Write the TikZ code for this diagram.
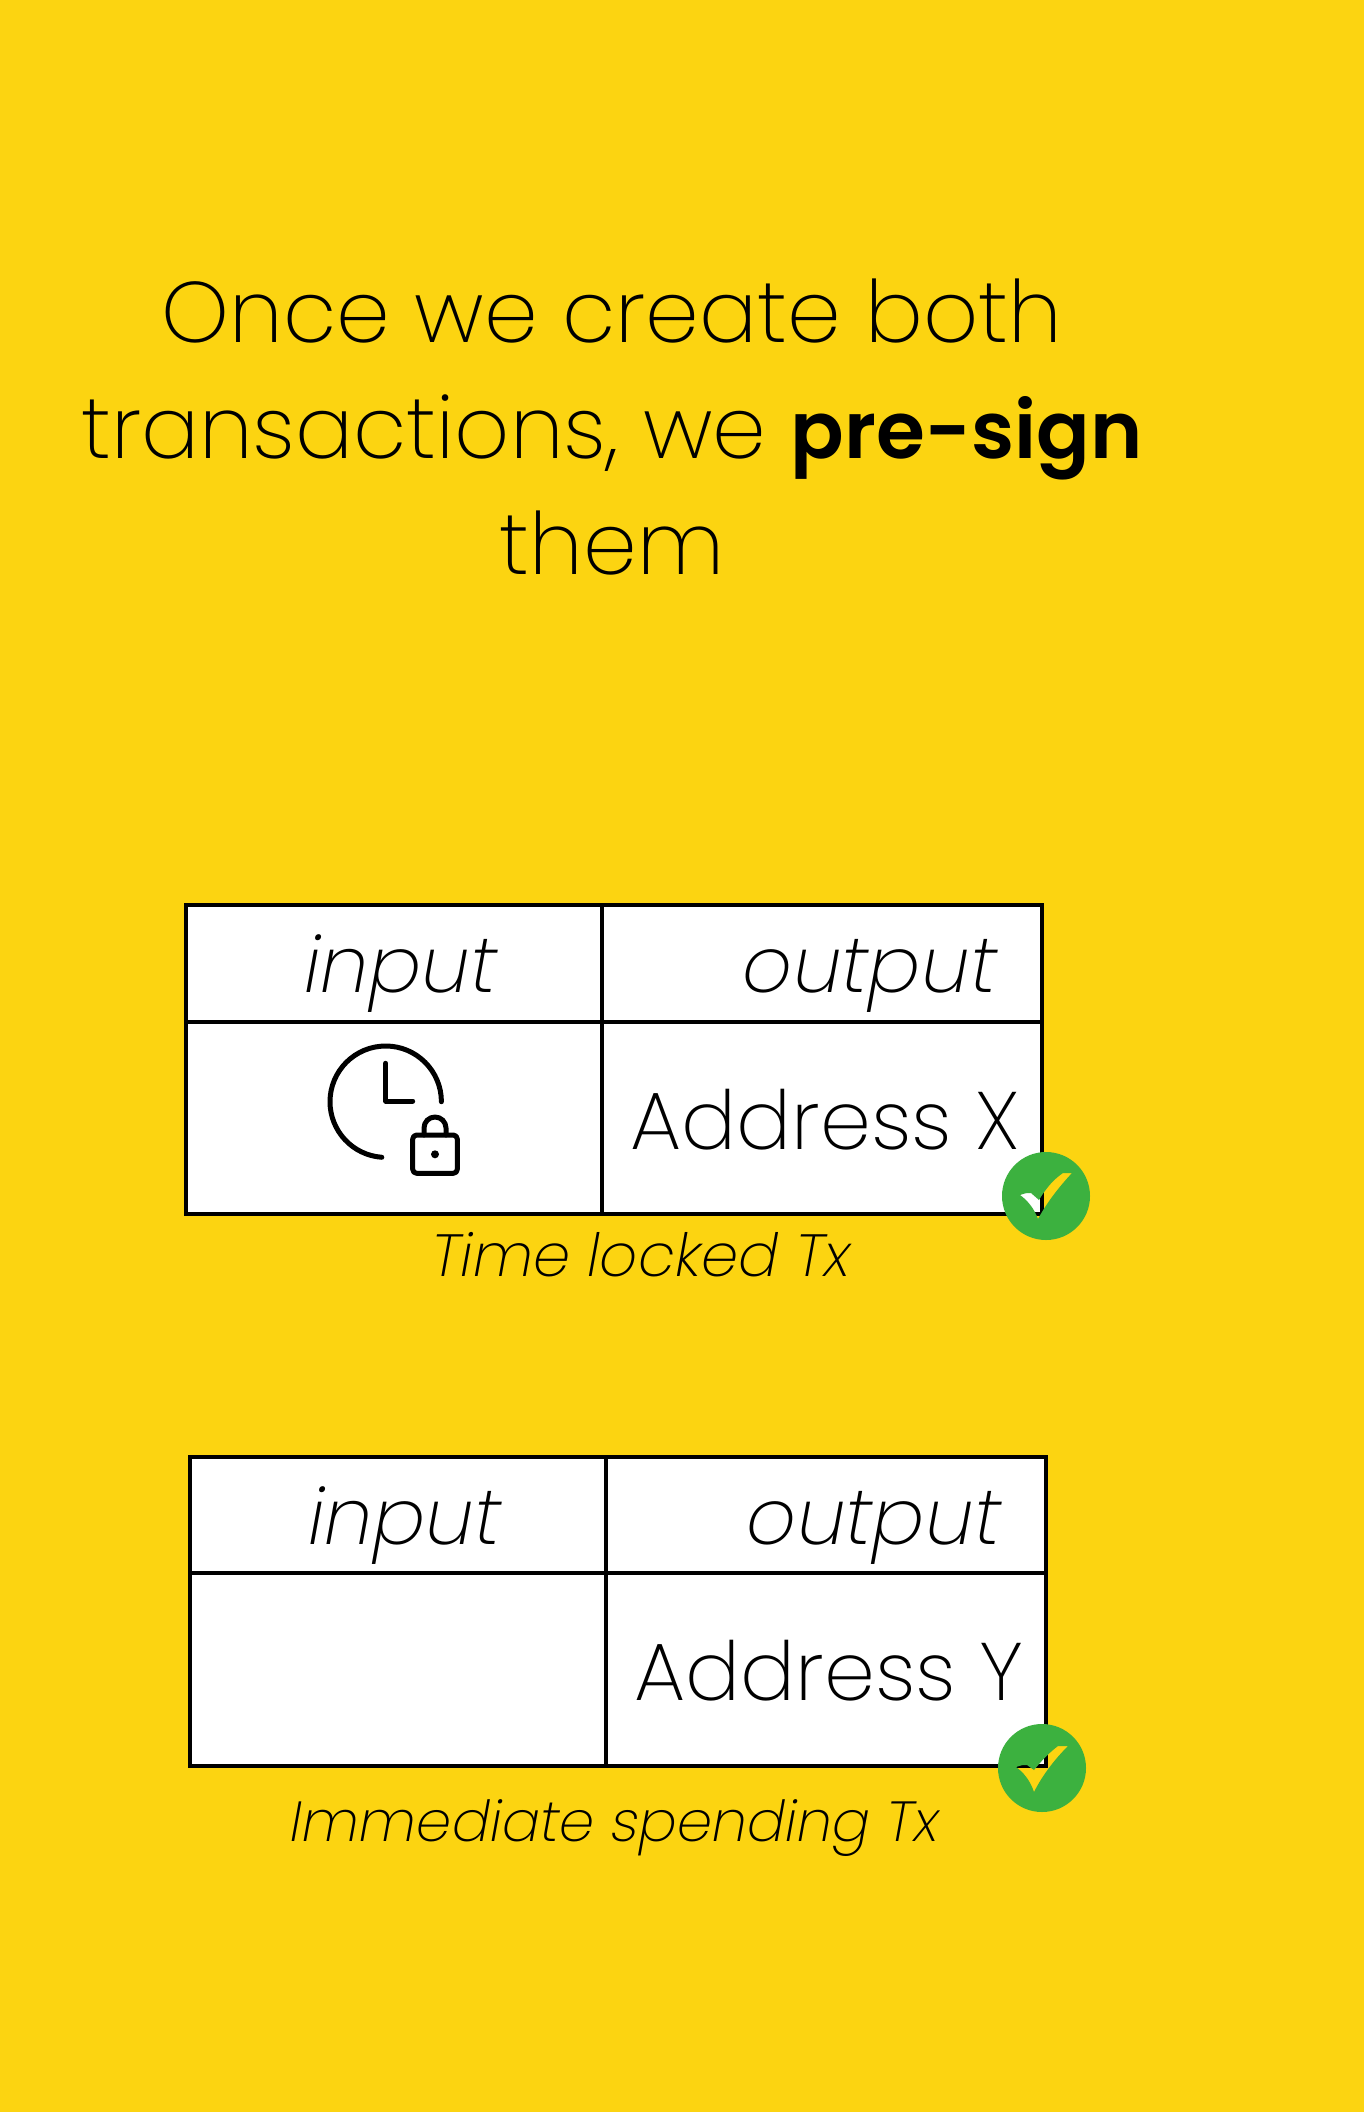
\documentclass[tikz,border=0pt]{standalone}
\usepackage{fontspec}
\setmainfont{Poppins ExtraLight}
\newfontfamily\boldface{Poppins}[UprightFont=*-SemiBold, Scale=0.92]
\newfontfamily\slantface{Poppins ExtraLight}[FakeSlant=0.18]
\usetikzlibrary{positioning}
\definecolor{pageyellow}{HTML}{FCD411}
\definecolor{tickgreen}{HTML}{3CB13F}
\tikzset{
    cell/.style={rectangle, draw=black, line width=4.5pt, fill=white, inner sep=0pt, outer sep=0pt},
    heading/.style={align=center, inner sep=0pt, font=\fontsize{86}{116}\selectfont},
    celltext/.style={anchor=base, inner sep=0pt, font=\fontsize{81.5}{88}\selectfont},
    headtext/.style={anchor=base, inner sep=0pt, font=\fontsize{78}{88}\slantface},
    caption/.style={anchor=base, inner sep=0pt, font=\fontsize{56.5}{64}\slantface},
    icon/.style={line width=5pt, line cap=round, line join=round}
}
\begin{document}
\begin{tikzpicture}[x=1pt, y=-1pt]
    \fill[pageyellow] (0,0) rectangle (1364,2112);
    \useasboundingbox (0,0) rectangle (1364,2112);

    % Title
    \node[heading] (title) at (612,427) {Once we create both\\transactions, we {\boldface pre-sign}\\them};

    % Time locked table
    \node[cell, minimum width=416pt, minimum height=117pt, anchor=north west] (inputA) at (186,905) {};
    \node[cell, minimum width=440pt, minimum height=117pt, right=0pt of inputA] (outputA) {};
    \node[cell, minimum width=416pt, minimum height=192pt, below=0pt of inputA] (lockA) {};
    \node[cell, minimum width=440pt, minimum height=192pt, below=0pt of outputA] (addressA) {};

    \node[headtext] (inputtextA) at (397,992) {input};
    \node[headtext] (outputtextA) at (866,992) {output};
    \node[celltext] (addresstextA) at (825,1149) {Address X};
    \node[caption, font=\fontsize{59.5}{64}\slantface] (captionA) at (638,1276) {Time locked Tx};

    % Clock and padlock
    \draw[icon] (441.4,1101.7) arc[start angle=0, end angle=266, radius=55.7pt];
    \draw[icon] (385.7,1063.3) -- (385.7,1101) -- (412.7,1101);
    \draw[icon, rounded corners=4pt] (412.7,1135) rectangle (457.3,1173.3);
    \draw[icon] (424,1135) -- (424,1128) arc[start angle=180, end angle=0, radius=11pt] -- (446,1135);
    \fill (435,1154.3) circle[radius=4pt];

    % Immediate spending table
    \node[cell, minimum width=416pt, minimum height=116pt, anchor=north west] (inputB) at (190,1457) {};
    \node[cell, minimum width=440pt, minimum height=116pt, right=0pt of inputB] (outputB) {};
    \node[cell, minimum width=416pt, minimum height=193pt, below=0pt of inputB] (emptyB) {};
    \node[cell, minimum width=440pt, minimum height=193pt, below=0pt of outputB] (addressB) {};

    \node[headtext] (inputtextB) at (401,1544) {input};
    \node[headtext] (outputtextB) at (870,1544) {output};
    \node[celltext] (addresstextB) at (829,1700) {Address Y};
    \node[caption] (captionB) at (612,1841) {Immediate spending Tx};

    % Green ticks, the tick is a hole in the disc
    \fill[tickgreen, even odd rule, shift={(1046,1196)}] (0,0) circle[radius=44pt]
        (-26,-1) .. controls (-20,-3) .. (-15,-3) -- (-7,4)
        .. controls (0,-8) and (8,-17) .. (17,-23) -- (26,-23)
        .. controls (12,-8) and (0,8) .. (-8,23)
        .. controls (-12,12) and (-19,4) .. (-26,-1) -- cycle;
    \fill[tickgreen, even odd rule, shift={(1042,1768)}] (0,0) circle[radius=44pt]
        (-26,-1) .. controls (-20,-3) .. (-15,-3) -- (-8,2)
        .. controls (0,-8) and (8,-16) .. (16,-22) -- (26,-22)
        .. controls (12,-8) and (0,8) .. (-8,24)
        .. controls (-12,12) and (-19,4) .. (-26,-1) -- cycle;
\end{tikzpicture}
\end{document}
